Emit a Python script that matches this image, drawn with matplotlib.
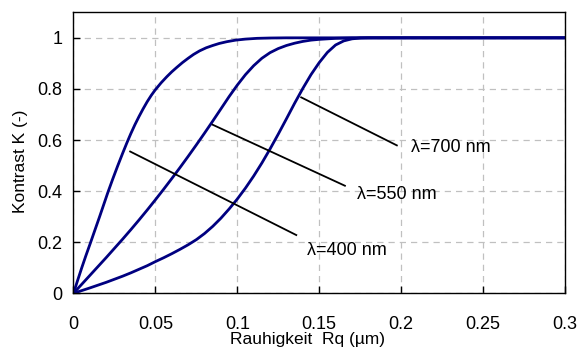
import numpy as np
import matplotlib.pyplot as plt

plt.rcParams['font.family'] = ['Liberation Sans', 'DejaVu Sans']

# curve for lambda = 400 nm (left)
x400 = [0, 0.0025, 0.005, 0.0075, 0.0105, 0.013, 0.016, 0.0185, 0.021, 0.024, 0.027,
        0.030, 0.0326, 0.035, 0.0375, 0.040, 0.0425, 0.045, 0.0475, 0.050, 0.0535,
        0.057, 0.060, 0.063, 0.0665, 0.070, 0.0733, 0.077, 0.081, 0.085, 0.089,
        0.0937, 0.099, 0.105, 0.112, 0.12, 0.13, 0.3]
y400 = [0, 0.05, 0.099, 0.146, 0.2, 0.246, 0.301, 0.348, 0.395, 0.448, 0.499,
        0.548, 0.589, 0.625, 0.660, 0.692, 0.722, 0.750, 0.775, 0.797, 0.824,
        0.848, 0.867, 0.884, 0.903, 0.920, 0.935, 0.949, 0.961, 0.970, 0.978,
        0.985, 0.991, 0.995, 0.998, 0.9993, 1.0, 1.0]

# curve for lambda = 550 nm (middle)
x550 = [0, 0.005, 0.01, 0.015, 0.02, 0.025, 0.03, 0.035, 0.04, 0.045, 0.05, 0.055,
        0.06, 0.065, 0.07, 0.075, 0.08, 0.085, 0.09, 0.095, 0.1, 0.105, 0.11, 0.115,
        0.12, 0.125, 0.13, 0.135, 0.14, 0.145, 0.15, 0.155, 0.16, 0.17, 0.18, 0.3]
y550 = [0, 0.035, 0.07, 0.105, 0.14, 0.176, 0.212, 0.249, 0.287, 0.326, 0.366, 0.407,
        0.449, 0.492, 0.536, 0.581, 0.627, 0.674, 0.722, 0.770, 0.815, 0.856, 0.891, 0.920,
        0.942, 0.958, 0.970, 0.979, 0.986, 0.991, 0.994, 0.996, 0.998, 0.9995, 1.0, 1.0]

# curve for lambda = 700 nm (right)
x700 = [0, 0.005, 0.01, 0.015, 0.02, 0.025, 0.03, 0.035, 0.04, 0.045, 0.05, 0.055,
        0.06, 0.065, 0.07, 0.075, 0.08, 0.085, 0.09, 0.095, 0.1, 0.105, 0.11, 0.115,
        0.12, 0.125, 0.13, 0.135, 0.14, 0.145, 0.15, 0.155, 0.16, 0.165, 0.17, 0.175,
        0.18, 0.3]
y700 = [0, 0.0105, 0.021, 0.032, 0.043, 0.055, 0.067, 0.080, 0.094, 0.108, 0.124, 0.139,
        0.155, 0.172, 0.190, 0.210, 0.234, 0.262, 0.294, 0.330, 0.369, 0.412, 0.459, 0.510,
        0.565, 0.623, 0.683, 0.744, 0.802, 0.856, 0.903, 0.943, 0.972, 0.988, 0.996, 0.9993,
        1.0, 1.0]

# leader lines (start, end) and label texts
labels = ["\u03bb=400 nm", "\u03bb=550 nm", "\u03bb=700 nm"]
lead_x = [[0.0346, 0.136], [0.0849, 0.1657], [0.139, 0.1974]]
lead_y = [[0.555, 0.228], [0.660, 0.421], [0.767, 0.579]]
text_x = [0.1427, 0.173, 0.206]
text_y = [0.169, 0.388, 0.572]

xticks = [0, 0.05, 0.1, 0.15, 0.2, 0.25, 0.3]
xticklabels = ["0", "0.05", "0.1", "0.15", "0.2", "0.25", "0.3"]
yticks = [0, 0.2, 0.4, 0.6, 0.8, 1]
yticklabels = ["0", "0.2", "0.4", "0.6", "0.8", "1"]

fig = plt.figure(figsize=(5.8, 3.51), dpi=100)
ax = fig.add_axes([0.1267, 0.1644, 0.8473, 0.8006])

ax.grid(True, color="#c0c0c0", linestyle=(0, (5, 4)), linewidth=0.9)
ax.set_axisbelow(True)

for xs, ys in [(x400, y400), (x550, y550), (x700, y700)]:
    ax.plot(xs, ys, color="#000080", lw=2, solid_joinstyle="round", solid_capstyle="round")

for i in range(3):
    ax.plot(lead_x[i], lead_y[i], color="black", lw=1.3)
    ax.text(text_x[i], text_y[i], labels[i], fontsize=13, ha="left", va="center")

ax.set_xlim(0, 0.3)
ax.set_ylim(0, 1.1)
ax.set_xticks(xticks)
ax.set_xticklabels(xticklabels)
ax.set_yticks(yticks)
ax.set_yticklabels(yticklabels)
ax.tick_params(direction="in", length=5, width=1, labelsize=13)
ax.tick_params(axis="x", pad=16)
ax.tick_params(axis="y", pad=8)
for s in ax.spines.values():
    s.set_linewidth(1)
    s.set_color("black")

ax.set_xlabel("Rauhigkeit  Rq (\u00b5m)", fontsize=12.5)
ax.xaxis.set_label_coords(0.476, -0.138)
ax.set_ylabel("Kontrast K (-)", fontsize=12.5)
ax.yaxis.set_label_coords(-0.092, 0.471)

plt.savefig("out.png", dpi=100)
